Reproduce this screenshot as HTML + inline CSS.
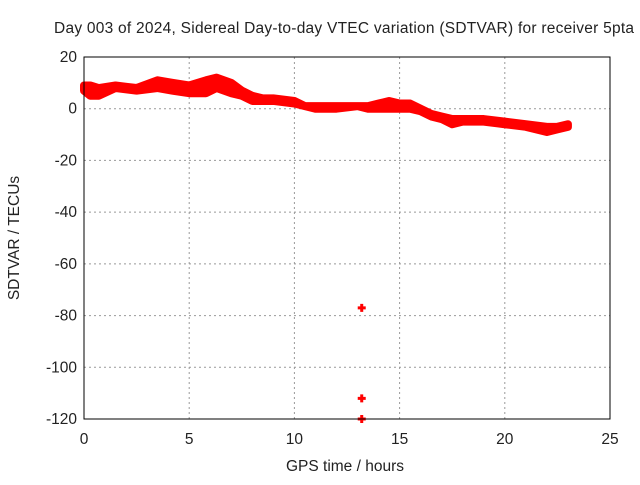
<!DOCTYPE html>
<html><head><meta charset="utf-8"><style>
body{margin:0;background:#fff}
svg text{font-family:"Liberation Sans",sans-serif;font-size:15.5px;fill:#222}
</style></head><body>
<svg id="c" width="640" height="480">
<text x="344" y="33" text-anchor="middle" textLength="580">Day 003 of 2024, Sidereal Day-to-day VTEC variation (SDTVAR) for receiver 5pta</text>
<text x="345" y="471" text-anchor="middle">GPS time / hours</text>
<text transform="translate(19,238) rotate(-90)" text-anchor="middle">SDTVAR / TECUs</text>
<g id="grid"></g><g id="ticks"></g><g id="marks"></g>
<rect x="84" y="57" width="526" height="362" fill="none" stroke="#000"/>
</svg>
<script>
const xTicks=[0,5,10,15,20,25];
const yTicks=[20,0,-20,-40,-60,-80,-100,-120];
const hours=[0,0.3,0.7,1.5,2.5,3.5,4.2,5,5.8,6.3,7,7.5,8,8.5,9,10,10.5,11,12,13,13.5,14,14.5,15,15.5,16,16.5,17,17.5,18,19,20,21,22,22.5,23];
const upper=[9,9,8,9,8,11,10,9,11,12,10,7,5,4,4,3,1,1,1,1,1,2,3,2,2,0,-2,-3,-4,-4,-4,-5,-6,-7,-7,-6];
const lower=[7,5,5,8,7,8,7,6,6,8,6,5,3,3,3,2,1,0,0,1,0,0,0,0,0,-1,-3,-4,-6,-5,-5,-6,-7,-9,-8,-7];
const outlierHours=[13.2,13.2,13.2];
const outlierValues=[-77,-112,-120];
const X=v=>84+v*(526/25), Y=v=>57+(20-v)*(362/140);
const ns='http://www.w3.org/2000/svg';
function mk(t,a,p){const e=document.createElementNS(ns,t);for(const k in a)e.setAttribute(k,a[k]);p.appendChild(e);return e;}
const g=document.getElementById('grid'),tk=document.getElementById('ticks'),m=document.getElementById('marks');
xTicks.forEach(v=>{
 if(v>0&&v<25){const l=mk('line',{x1:X(v),x2:X(v),y1:57,y2:419,stroke:'#999','stroke-dasharray':'2,3'},g);
 
 }
 const t=mk('text',{x:X(v),y:444,'text-anchor':'middle'},tk);t.textContent=v;
 
 
});
yTicks.forEach(v=>{
 if(v<20&&v>-120){const l=mk('line',{x1:84,x2:610,y1:Y(v),y2:Y(v),stroke:'#999','stroke-dasharray':'2,3'},g);
 
 }
 const t=mk('text',{x:77,y:Y(v)+5,'text-anchor':'end'},tk);t.textContent=v;
 
 
});
let d='M'+hours.map((h,i)=>X(h)+','+Y(upper[i])).join('L');
for(let i=hours.length-1;i>=0;i--)d+='L'+X(hours[i])+','+Y(lower[i]);
const band=mk('path',{d:d+'Z',fill:'#f00',stroke:'#f00','stroke-width':8,'stroke-linejoin':'round'},m);


outlierHours.forEach((h,i)=>{
 const p=mk('path',{d:`M${X(h)-4},${Y(outlierValues[i])}h8M${X(h)},${Y(outlierValues[i])-4}v8`,stroke:'#f00','stroke-width':3},m);
 
 
});
</script>
</body></html>
